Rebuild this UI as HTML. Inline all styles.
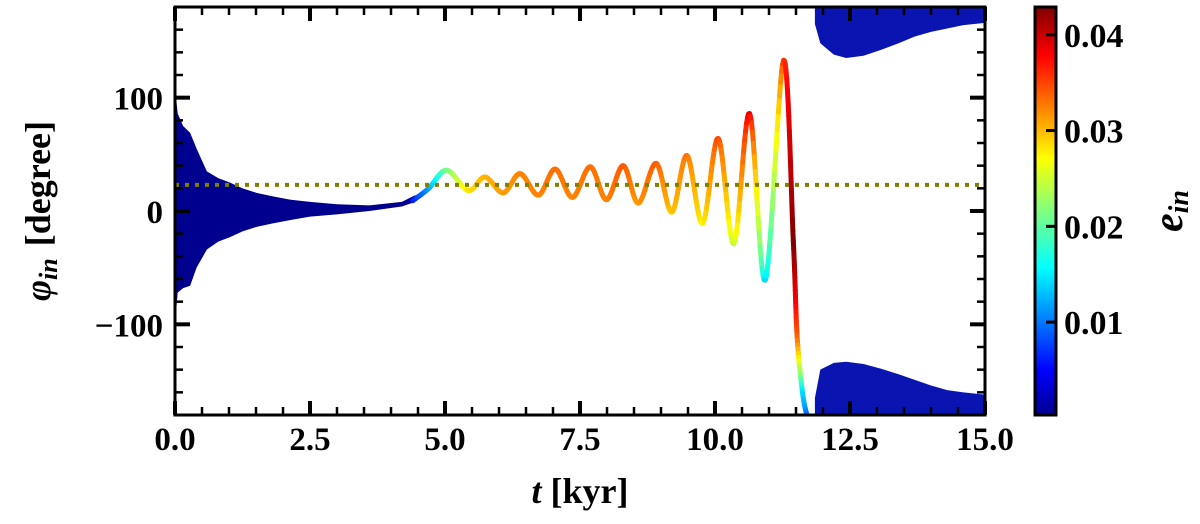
<!DOCTYPE html>
<html><head><meta charset="utf-8"><style>
html,body{margin:0;padding:0;background:#fff;}
svg{display:block;font-family:"Liberation Serif",serif;font-weight:bold;}
</style></head><body>
<svg id="chart" width="1200" height="524" viewBox="0 0 1200 524">
<defs>
<clipPath id="plotclip"><rect x="175" y="7" width="810" height="408"/></clipPath>
<linearGradient id="jetgrad" x1="0" y1="1" x2="0" y2="0">
<stop offset="0" stop-color="#00008f"/><stop offset="0.11" stop-color="#0000ff"/><stop offset="0.36" stop-color="#00ffff"/><stop offset="0.5" stop-color="#80ff80"/><stop offset="0.63" stop-color="#ffff00"/><stop offset="0.88" stop-color="#ff0000"/><stop offset="1" stop-color="#800000"/>
</linearGradient>
</defs>
<g id="plot" clip-path="url(#plotclip)"></g>
<g id="axes"></g>
</svg>
<script>
// ---- data ----
const xTicks = [0, 2.5, 5, 7.5, 10, 12.5, 15];
const xTickLabels = ["0.0","2.5","5.0","7.5","10.0","12.5","15.0"];
const yTicks = [-100, 0, 100];
const yTickLabels = ["\u2212100","0","100"];
const cbTicks = [0.01, 0.02, 0.03, 0.04];
const cbTickLabels = ["0.01","0.02","0.03","0.04"];
const refPhi = 23;
// early libration band
const bandT     = [0, 0.05, 0.15, 0.28, 0.4, 0.59, 0.8, 1.02, 1.25, 1.51, 1.8, 2.13, 2.5, 3.0, 3.6, 4.2, 4.45];
const bandUpper = [109, 86, 75, 69, 55, 35, 29, 25, 20, 16, 13, 10, 8, 6, 5, 8, 14];
const bandLower = [-100, -72, -68, -66, -50, -34, -27, -23, -18, -14, -11, -8, -5, -3, 0, 4, 8];
// colored oscillation
const oscT   = [4.4, 4.7, 5.03, 5.43, 5.74, 6.08, 6.39, 6.73, 7.04, 7.36, 7.69, 7.99, 8.30, 8.58, 8.91, 9.20, 9.48, 9.77, 10.06, 10.35, 10.64, 10.93, 11.27, 11.45, 11.52, 11.62, 11.70];
const oscPhi = [9, 20, 36, 18, 30, 16, 33, 14, 37, 12, 39, 10, 40, 7, 42, -1, 49, -11, 64, -29, 86, -61, 133, -26, -110, -160, -180];
const oscE   = [0.006, 0.012, 0.021, 0.028, 0.030, 0.031, 0.032, 0.032, 0.033, 0.032, 0.033, 0.032, 0.034, 0.031, 0.034, 0.029, 0.033, 0.027, 0.035, 0.024, 0.039, 0.014, 0.035, 0.043, 0.034, 0.015, 0.010];
// late circulation bands (wrapped)
const lateT      = [11.85, 11.95, 12.2, 12.43, 12.75, 13.06, 13.4, 13.7, 14.0, 14.3, 14.6, 15.0];
const lateTopLow = [165, 148, 138, 135, 137, 142, 148, 154, 158, 161, 164, 166];
const lateBotUp  = [-165, -140, -134, -133, -135, -139, -144, -149, -154, -158, -160, -162];

// ---- scales ----
const X0=175, X1=985, Y0=7, Y1=415;
const xs = t => X0 + (t-0)/(15-0)*(X1-X0);
const ys = p => Y1 - (p+180)/360*(Y1-Y0);
const CB0=0.0003, CB1=0.0429, CBY0=7, CBY1=415;
const cbs = e => CBY1 - (e-CB0)/(CB1-CB0)*(CBY1-CBY0);
const NS="http://www.w3.org/2000/svg";
function mk(tag, attrs, parent){const el=document.createElementNS(NS,tag);for(const k in attrs)el.setAttribute(k,attrs[k]);parent.appendChild(el);return el;}
function jet(v){
  const c=x=>Math.max(0,Math.min(1,x));
  const r=c(1.5-Math.abs(4*v-3)), g=c(1.5-Math.abs(4*v-2)), b=c(1.5-Math.abs(4*v-1));
  return `rgb(${Math.round(r*255)},${Math.round(g*255)},${Math.round(b*255)})`;
}
const ecol = e => jet((e-CB0)/(CB1-CB0));
const plot=document.getElementById('plot'), axes=document.getElementById('axes');

// early band
let d="M"+bandT.map((t,i)=>xs(t)+","+ys(bandUpper[i])).join("L");
for(let i=bandT.length-1;i>=0;i--) d+="L"+xs(bandT[i])+","+ys(bandLower[i]);
let el=mk('path',{d:d+"Z",fill:"#00008f"},plot);



// late bands
d="M"+xs(lateT[0])+","+ys(180)+"L"+lateT.map((t,i)=>xs(t)+","+ys(lateTopLow[i])).join("L")+"L"+xs(15)+","+ys(180)+"Z";
el=mk('path',{d:d,fill:"#0a14b0"},plot);


d="M"+xs(lateT[0])+","+ys(-180)+"L"+lateT.map((t,i)=>xs(t)+","+ys(lateBotUp[i])).join("L")+"L"+xs(15)+","+ys(-180)+"Z";
el=mk('path',{d:d,fill:"#0a14b0"},plot);



// colored oscillation
const og=mk('g',{},plot);


const n=oscT.length;
for(let i=0;i<n-1;i++){
  const p0=Math.max(0,i-1), p3=Math.min(n-1,i+2);
  const P=k=>[xs(oscT[k]),ys(oscPhi[k])];
  const a=P(p0),b=P(i),c=P(i+1),dd=P(p3);
  const steps=16; let prev=b;
  for(let s=1;s<=steps;s++){
    const u=s/steps,u2=u*u,u3=u2*u;
    const pt=[0,1].map(j=>0.5*((2*b[j])+(-a[j]+c[j])*u+(2*a[j]-5*b[j]+4*c[j]-dd[j])*u2+(-a[j]+3*b[j]-3*c[j]+dd[j])*u3));
    const e=oscE[i]+(oscE[i+1]-oscE[i])*(u-0.5/steps);
    const seg=mk('line',{x1:prev[0],y1:prev[1],x2:pt[0],y2:pt[1],stroke:ecol(e),'stroke-width':5,'stroke-linecap':'round'},og);
    
    
    prev=pt;
  }
}
// reference line
el=mk('line',{x1:X0,x2:X1,y1:ys(refPhi),y2:ys(refPhi),stroke:"#808000",'stroke-width':4,'stroke-dasharray':"4,6"},plot);



// frame
el=mk('rect',{x:X0,y:Y0,width:X1-X0,height:Y1-Y0,fill:"none",stroke:"#000",'stroke-width':3},axes);


for(let t=0;t<=15.001;t+=0.5){
  const maj=Math.abs(t/2.5-Math.round(t/2.5))<1e-6, L=maj?14:8, w=maj?4:2.5;
  mk('line',{x1:xs(t),x2:xs(t),y1:Y1,y2:Y1-L,stroke:"#000",'stroke-width':w},axes);
  mk('line',{x1:xs(t),x2:xs(t),y1:Y0,y2:Y0+L,stroke:"#000",'stroke-width':w},axes);
}
xTicks.forEach((t,i)=>{el=mk('text',{x:xs(t),y:450,'text-anchor':'middle','font-size':33},axes);el.textContent=xTickLabels[i];

});
for(let p=-180;p<=180;p+=20){
  const maj=p%100===0, L=maj?15:8, w=maj?4:2.5;
  mk('line',{x1:X0,x2:X0+L,y1:ys(p),y2:ys(p),stroke:"#000",'stroke-width':w},axes);
  mk('line',{x1:X1,x2:X1-L,y1:ys(p),y2:ys(p),stroke:"#000",'stroke-width':w},axes);
}
yTicks.forEach((p,i)=>{el=mk('text',{x:163,y:ys(p)+12,'text-anchor':'end','font-size':33},axes);el.textContent=yTickLabels[i];

});
el=mk('text',{x:580,y:503,'text-anchor':'middle','font-size':36},axes);
el.innerHTML='<tspan font-style="italic">t</tspan> [kyr]';


el=mk('text',{x:0,y:0,'text-anchor':'middle','font-size':36,transform:'translate(50,211) rotate(-90)'},axes);
el.innerHTML='<tspan font-style="italic">φ</tspan><tspan font-style="italic" font-size="26" dy="7">in</tspan><tspan dy="-7" dx="12">[degree]</tspan>';


el=mk('rect',{x:1035,y:CBY0,width:21,height:CBY1-CBY0,fill:"url(#jetgrad)",stroke:"#000",'stroke-width':3},axes);


cbTicks.forEach((e,i)=>{
  mk('line',{x1:1046,x2:1056,y1:cbs(e),y2:cbs(e),stroke:"#000",'stroke-width':3},axes);
  el=mk('text',{x:1064,y:cbs(e)+12,'font-size':34},axes);el.textContent=cbTickLabels[i];
  
  
});
el=mk('text',{x:0,y:0,'text-anchor':'middle','font-size':42,'font-style':'italic',transform:'translate(1182,211) rotate(-90)'},axes);
el.innerHTML='e<tspan font-size="28" dy="6">in</tspan>';


</script>
</body></html>
